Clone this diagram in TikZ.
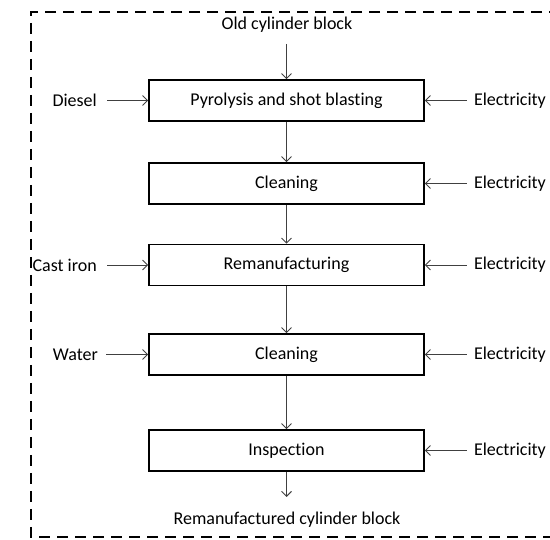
\documentclass[tikz,border=0pt]{standalone}
\usepackage{fontspec}
\setmainfont{Carlito}[Ligatures={NoCommon,NoRare}]
\usetikzlibrary{arrows.meta}

\begin{document}
\begin{tikzpicture}[x=1pt,y=-1pt]
\tikzstyle{every node}+=[font=\fontsize{18}{21}\selectfont,inner sep=3pt]
\tikzstyle{process}=[draw=black,line width=1.6pt,minimum width=275pt,minimum height=41pt]
\tikzstyle{flow}=[draw=black!75,line width=0.9pt,-{Straight Barb[length=5pt,width=10pt]}]
\useasboundingbox (0,0) rectangle (550,540);
% system boundary
\draw [black,line width=2.8pt,dash pattern=on 11pt off 7pt] (560,12) -- (31,12) -- (31,537) -- (560,537);
% process steps
\node [process] (pyro) at (286.5,100.5) {Pyrolysis and shot blasting};
\node [process] (clean1) at (286.5,183.5) {Cleaning};
\node [process] (reman) at (286.5,265) {Remanufacturing};
\node [process] (clean2) at (286.5,354.5) {Cleaning};
\node [process] (insp) at (286.5,450.5) {Inspection};
% product in and out
\node (old) at (287,25) {Old cylinder block};
\node (new) at (287,520) {Remanufactured cylinder block};
\coordinate (oldend) at (286.5,44);
\coordinate (newend) at (286.5,497);
\draw [flow] (oldend) -- (pyro);
\draw [flow] (pyro) -- (clean1);
\draw [flow] (clean1) -- (reman);
\draw [flow] (reman) -- (clean2);
\draw [flow] (clean2) -- (insp);
\draw [flow] (insp) -- (newend);
% material inputs
\node [anchor=east] (diesel) at (100,100.5) {Diesel};
\node [anchor=east] (iron) at (100,265) {Cast iron};
\node [anchor=east] (water) at (101,354.5) {Water};
\draw [flow] ([xshift=7pt]diesel.east) -- (pyro);
\draw [flow] ([xshift=7pt]iron.east) -- (reman);
\draw [flow] ([xshift=5pt]water.east) -- (clean2);
% energy inputs
\foreach \step/\name in {pyro/e1,clean1/e2,reman/e3,clean2/e4,insp/e5}{
  \node [anchor=west] (\name) at ([xshift=46pt]\step.east) {Electricity};
  \draw [flow] ([xshift=-4pt]\name.west) -- (\step);
}
\end{tikzpicture}
\end{document}
